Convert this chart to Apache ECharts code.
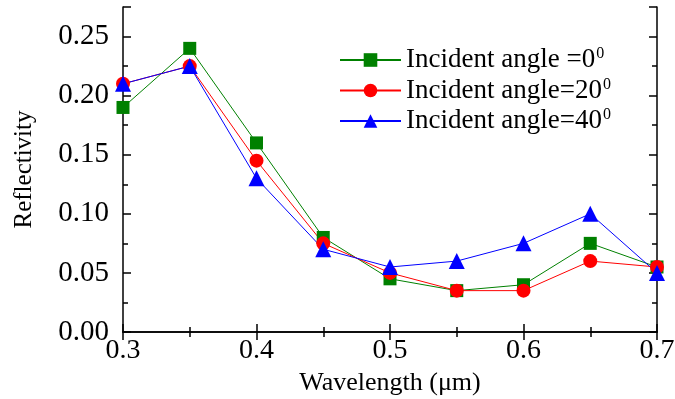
<!DOCTYPE html>
<html><head><meta charset="utf-8">
<script src="https://cdn.jsdelivr.net/npm/echarts@6/dist/echarts.min.js"></script>
<style>html,body{margin:0;padding:0;background:#fff}#c{width:675px;height:399px}</style>
</head><body><div id="c"></div>
<script>
var wavelengths = [0.3, 0.35, 0.4, 0.45, 0.5, 0.55, 0.6, 0.65, 0.7];
var angle0 = [0.19, 0.24, 0.16, 0.08, 0.045, 0.035, 0.04, 0.075, 0.055];
var angle20 = [0.21, 0.225, 0.145, 0.075, 0.05, 0.035, 0.035, 0.06, 0.055];
var angle40 = [0.21, 0.225, 0.13, 0.07, 0.055, 0.06, 0.075, 0.10, 0.05];
var seriesNames = ['Incident angle =0', 'Incident angle=20', 'Incident angle=40'];

function pairs(v){ return wavelengths.map(function(x,i){ return [x, v[i]]; }); }
var F = 'Liberation Serif, Times New Roman, serif';
var chart = echarts.init(document.getElementById('c'));
var tickCommon = {inside:true, length:8, lineStyle:{color:'#000', width:1.5}};
var minorCommon = {show:true, splitNumber:2, length:5, lineStyle:{color:'#000', width:1.5}};
chart.setOption({
  animation:false,
  grid:{left:123, right:18, top:7, bottom:67, outerBoundsMode:'none', containLabel:false},
  legend:{
    orient:'vertical', left:334, top:41, itemWidth:61, itemHeight:17, itemGap:3,
    data:seriesNames,
    formatter:function(n){ return '{t|' + n + '}{s|0}'; },
    textStyle:{fontFamily:F, color:'#000', rich:{
      t:{fontFamily:F, fontSize:27, color:'#000', lineHeight:27},
      s:{fontFamily:F, fontSize:16, color:'#000', verticalAlign:'top', padding:[0,0,12,1]}
    }}
  },
  xAxis:[{
    type:'value', min:0.3, max:0.7, interval:0.1,
    name:'Wavelength (\u03bcm)', nameLocation:'middle', nameGap:38,
    nameTextStyle:{fontFamily:F, fontSize:26, color:'#000'},
    axisLine:{lineStyle:{color:'#000', width:1.5}},
    axisTick:tickCommon, minorTick:minorCommon,
    splitLine:{show:false},
    axisLabel:{fontFamily:F, fontSize:28, color:'#000', margin:5, formatter:function(v){return v.toFixed(1);}}
  },{
    type:'value', position:'top', min:0.3, max:0.7, interval:0.1,
    axisLine:{lineStyle:{color:'#000', width:1.5}},
    axisTick:tickCommon, minorTick:minorCommon,
    splitLine:{show:false}, axisLabel:{show:false}
  }],
  yAxis:[{
    type:'value', min:0, max:0.275, interval:0.05,
    name:'Reflectivity', nameLocation:'middle', nameGap:86, nameRotate:90,
    nameTextStyle:{fontFamily:F, fontSize:25, color:'#000'},
    axisLine:{lineStyle:{color:'#000', width:1.5}},
    axisTick:tickCommon, minorTick:minorCommon,
    splitLine:{show:false},
    axisLabel:{fontFamily:F, fontSize:29, color:'#000', margin:14, showMaxLabel:false,
      formatter:function(v){return v.toFixed(2);}}
  },{
    type:'value', position:'right', min:0, max:0.275, interval:0.05,
    axisLine:{lineStyle:{color:'#000', width:1.5}},
    axisTick:tickCommon, minorTick:minorCommon,
    splitLine:{show:false}, axisLabel:{show:false}
  }],
  series:[
    {name:seriesNames[0], type:'line', data:pairs(angle0), symbol:'rect', symbolSize:13,
     lineStyle:{color:'#008000', width:1}, itemStyle:{color:'#008000'}},
    {name:seriesNames[1], type:'line', data:pairs(angle20), symbol:'circle', symbolSize:14,
     lineStyle:{color:'#ff0000', width:1}, itemStyle:{color:'#ff0000'}},
    {name:seriesNames[2], type:'line', data:pairs(angle40), symbol:'triangle', symbolSize:16,
     lineStyle:{color:'#0000ff', width:1}, itemStyle:{color:'#0000ff'}}
  ]
});
</script></body></html>
